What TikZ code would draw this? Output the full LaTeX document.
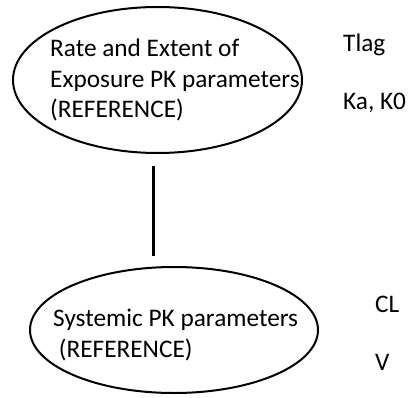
\documentclass[tikz,border=0pt]{standalone}
\usepackage{fontspec}
\setmainfont{Carlito}
\usetikzlibrary{positioning,shapes.geometric}

\tikzset{
  pkgroup/.style={ellipse, draw, line width=2pt, inner sep=0pt},
  pktext/.style={align=left, inner sep=0pt, anchor=base west, font=\fontsize{25.3}{30.5}\selectfont},
  pkparam/.style={inner sep=0pt, anchor=base west, font=\fontsize{25.3}{30.5}\selectfont},
}

\begin{document}
\begin{tikzpicture}[x=1pt, y=-1pt]
  \useasboundingbox (0,0) rectangle (409,398);
  % the two groups of parameters
  \node[pkgroup, minimum width=289pt, minimum height=146pt] (exposure) at (157.5,80) {};
  \node[pkgroup, minimum width=288pt, minimum height=126pt] (systemic) at (174,330) {};
  % base anchor sits on the last line
  \node[pktext] (exposuretxt) at (50,118) {Rate and Extent of\\Exposure PK parameters\\(REFERENCE)};
  \node[pktext] (systemictxt) at (53,357) {Systemic PK parameters\\\ (REFERENCE)};
  % parameters next to each group
  \node[pkparam] (tlag) at (343,52) {Tlag};
  \node[pkparam] (ka)   at (343,110) {Ka, K0};
  \node[pkparam] (cl)   at (375,312) {CL};
  \node[pkparam] (v)    at (375,370) {V};
  \draw[line width=2.4pt, shorten <=12pt, shorten >=10pt]
    ([xshift=-4pt]exposure.south) -- ([xshift=-4pt]exposure.south |- systemic.north);
\end{tikzpicture}
\end{document}
